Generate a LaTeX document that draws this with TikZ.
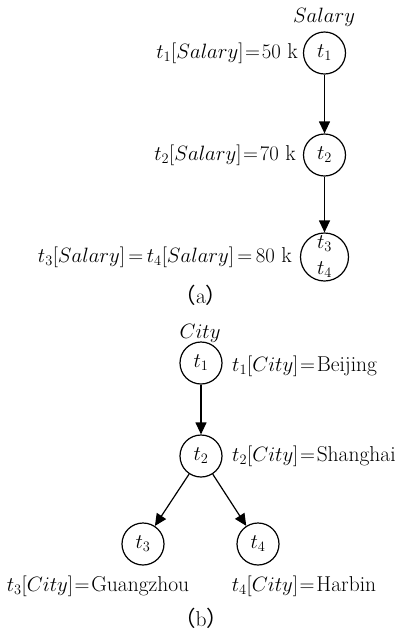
\documentclass[tikz,border=0pt]{standalone}
\usepackage{fontspec}
\newfontfamily\cjk{Noto Sans CJK SC}
\usetikzlibrary{arrows.meta}
\newcommand{\eqs}{\mkern1.5mu{=}\mkern1.5mu}
\newcommand{\eqw}{\mkern3mu{=}\mkern3mu}
\begin{document}
\begin{tikzpicture}[x=1pt,y=-1pt,
  every node/.style={font=\fontsize{21.5}{25}\selectfont},
  vtx/.style={draw,circle,line width=1.2pt,minimum size=42pt,inner sep=0pt},
  bigvtx/.style={draw,circle,line width=1.2pt,minimum size=48pt,inner sep=0pt,align=center},
  lbl/.style={inner sep=0pt},
  edge/.style={line width=1.2pt,-{Triangle[length=12pt,width=11pt]}}]
\useasboundingbox (0,0) rectangle (399,630);
% (a)
\node[lbl] (sal) at (324,17) {$Salary$};
\node[vtx] (a1) at (324.5,53) {$t_1$};
\node[vtx] (a2) at (324.5,155) {$t_2$};
\node[bigvtx] (a3) at (324.5,257) {$t_3$\\[1pt]$t_4$};
\draw[edge] (a1) -- (a2);
\draw[edge] (a2) -- (a3);
\node[lbl,anchor=east] (la1) at (298,53) {$t_1[Salary]\eqs50$ k};
\node[lbl,anchor=east] (la2) at (296,155) {$t_2[Salary]\eqs70$ k};
\node[lbl,anchor=east] (la3) at (292,257) {$t_3[Salary]\eqw t_4[Salary]\eqw80$ k};
\node[lbl] (capa) at (201,295) {{\cjk （}a{\cjk ）}};
% (b)
\node[lbl] (city) at (200,333) {$City$};
\node[vtx] (b1) at (201,363) {$t_1$};
\node[vtx] (b2) at (201,456) {$t_2$};
\node[vtx] (b3) at (143,544) {$t_3$};
\node[vtx] (b4) at (258,544) {$t_4$};
\draw[edge] (b1) -- (b2);
\draw[edge] (b2) -- (b3);
\draw[edge] (b2) -- (b4);
\node[lbl,anchor=west] (lb1) at (232,366) {$t_1[City]\eqs$Beijing};
\node[lbl,anchor=west] (lb2) at (232,456) {$t_2[City]\eqs$Shanghai};
\node[lbl] (lb3) at (98,586) {$t_3[City]\eqs$Guangzhou};
\node[lbl] (lb4) at (304,586) {$t_4[City]\eqs$Harbin};
\node[lbl] (capb) at (201,618) {{\cjk （}b{\cjk ）}};
\end{tikzpicture}
\end{document}
